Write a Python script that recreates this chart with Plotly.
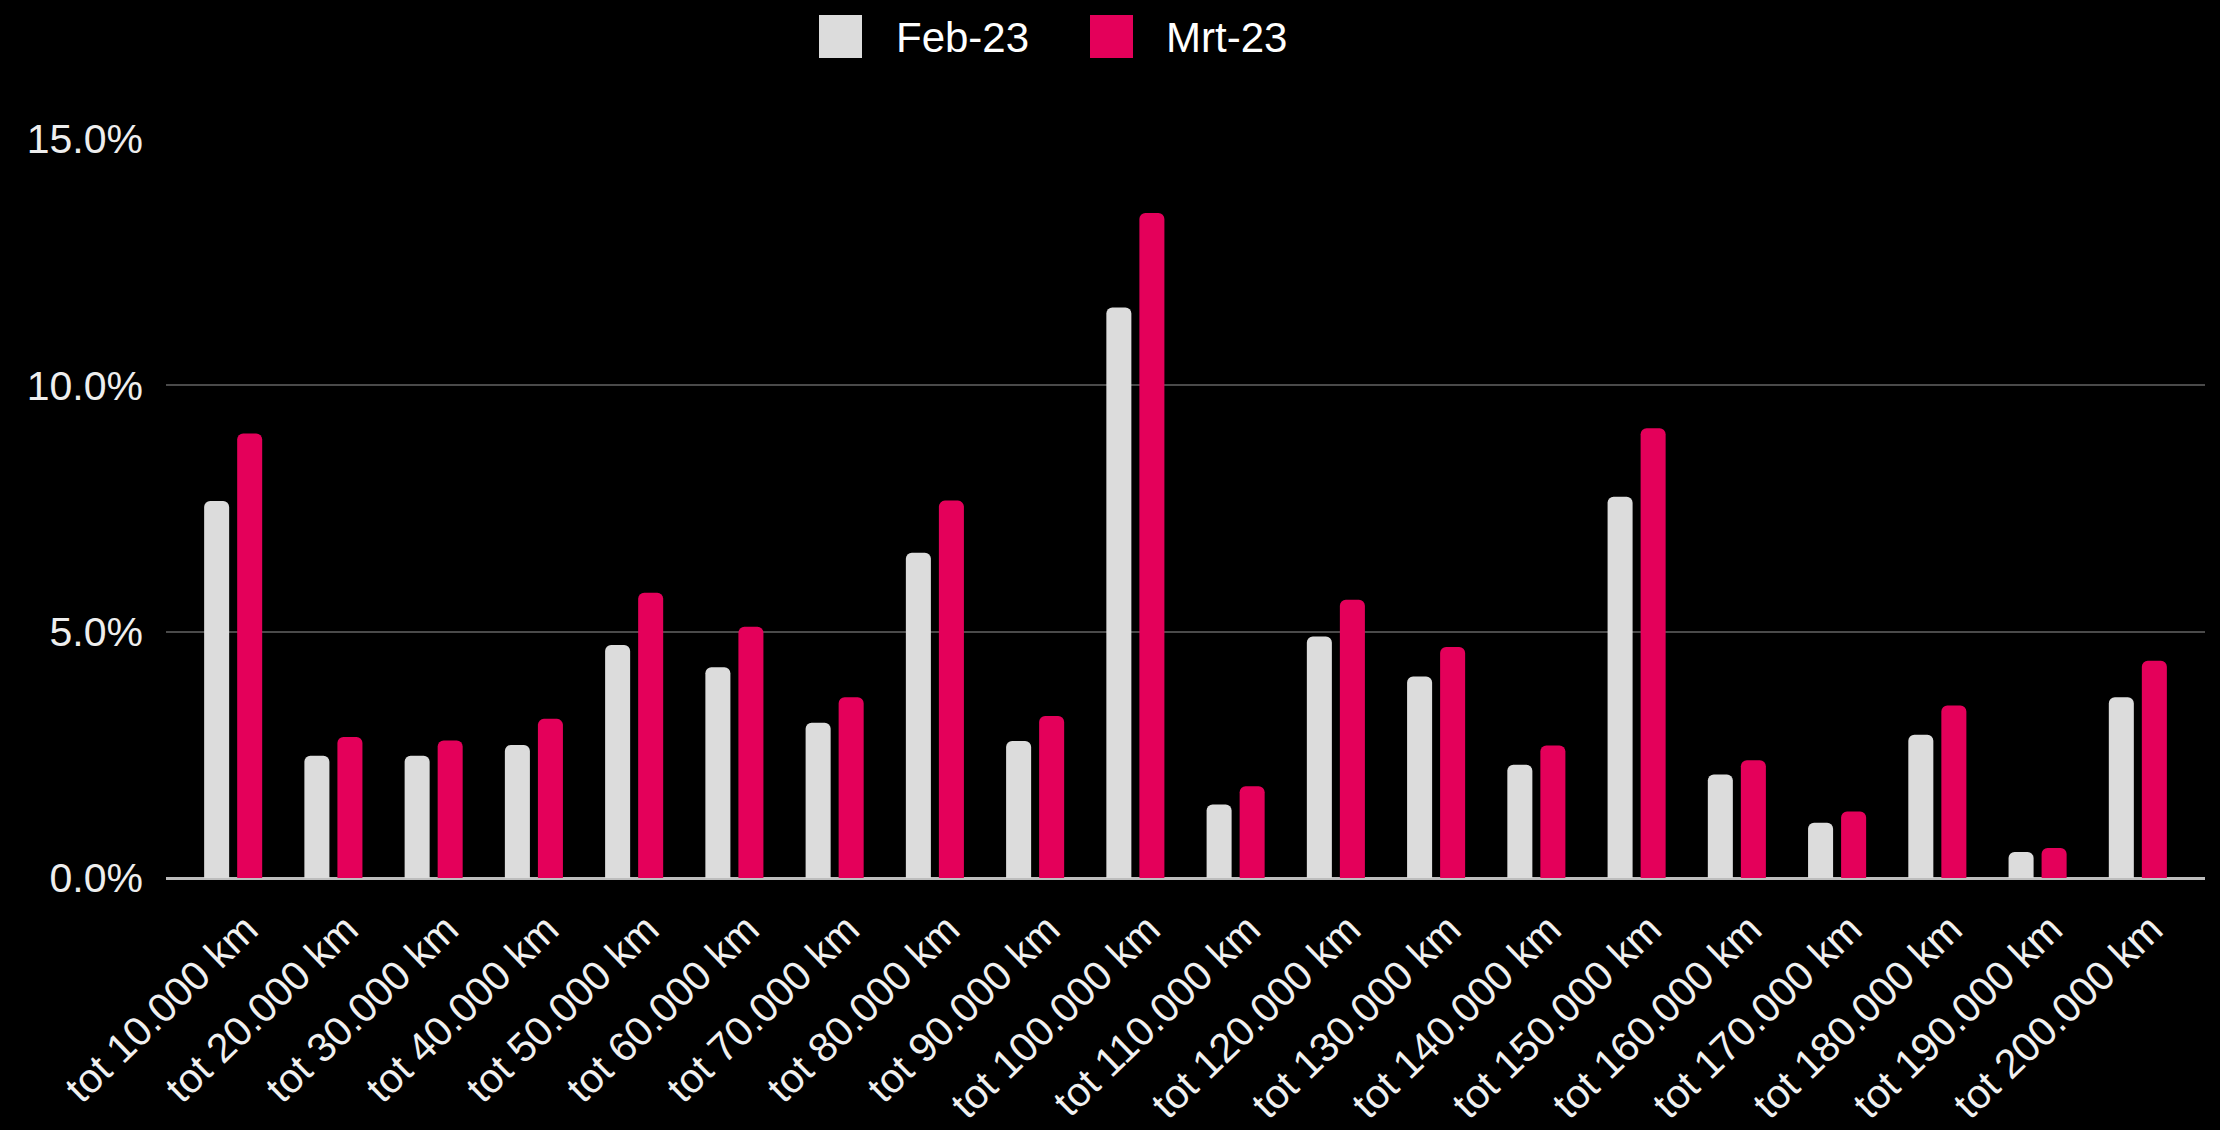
import plotly.graph_objects as go

categories = ["tot 10.000 km", "tot 20.000 km", "tot 30.000 km", "tot 40.000 km",
              "tot 50.000 km", "tot 60.000 km", "tot 70.000 km", "tot 80.000 km",
              "tot 90.000 km", "tot 100.000 km", "tot 110.000 km", "tot 120.000 km",
              "tot 130.000 km", "tot 140.000 km", "tot 150.000 km", "tot 160.000 km",
              "tot 170.000 km", "tot 180.000 km", "tot 190.000 km", "tot 200.000 km"]
feb_23 = [7.65, 2.48, 2.48, 2.70, 4.73, 4.28, 3.15, 6.60, 2.78, 11.58,
          1.49, 4.90, 4.09, 2.30, 7.74, 2.10, 1.12, 2.91, 0.53, 3.67]
mrt_23 = [9.02, 2.86, 2.79, 3.23, 5.79, 5.10, 3.67, 7.66, 3.29, 13.50,
          1.86, 5.65, 4.69, 2.69, 9.13, 2.39, 1.35, 3.50, 0.61, 4.41]
series_names = ["Feb-23", "Mrt-23"]
y_ticks = [0, 5, 10, 15]
y_tick_labels = ["0.0%", "5.0%", "10.0%", "15.0%"]

COL_FEB = "#DCDCDC"
COL_MRT = "#E4005A"
FONT = "Liberation Sans, Arial, sans-serif"

W, H = 2220, 1130
L, R = 166, 2205
T, B = 139, 878

fig = go.Figure()
fig.add_trace(go.Bar(x=categories, y=feb_23, name=series_names[0],
                     marker=dict(color=COL_FEB, line=dict(width=0))))
fig.add_trace(go.Bar(x=categories, y=mrt_23, name=series_names[1],
                     marker=dict(color=COL_MRT, line=dict(width=0))))


def px_x(p):
    return (p - L) / (R - L)


def px_y(p):
    return (B - p) / (B - T)


shapes = []
annotations = []
legend_items = [(series_names[0], COL_FEB, 819, 894), (series_names[1], COL_MRT, 1090, 1164)]
for name, col, sx, tx in legend_items:
    shapes.append(dict(type="rect", xref="paper", yref="paper",
                       x0=px_x(sx), x1=px_x(sx + 43), y0=px_y(58), y1=px_y(15),
                       fillcolor=col, line=dict(width=0)))
    annotations.append(dict(text=name, xref="paper", yref="paper",
                            x=px_x(tx), y=px_y(37), xanchor="left", yanchor="middle",
                            showarrow=False, font=dict(family=FONT, size=42, color="#ffffff")))

fig.update_layout(
    width=W, height=H,
    margin=dict(l=L, r=W - R, t=T, b=H - B, pad=0, autoexpand=False),
    paper_bgcolor="#000000", plot_bgcolor="#000000",
    showlegend=False,
    barmode="group", bargap=0.341, bargroupgap=0.2424,
    barcornerradius=6,
    font=dict(family=FONT, size=41, color="#eeeeee"),
    shapes=shapes, annotations=annotations,
)
fig.update_xaxes(
    type="category", range=[-0.67, 19.67], tickangle=-44, automargin=False,
    showgrid=False, showline=False, zeroline=False, ticks="",
    ticklabelstandoff=18, ticklabelshift=13,
    tickfont=dict(family=FONT, size=41, color="#f0f0f0"),
)
fig.update_yaxes(
    range=[0, 15], tickvals=y_ticks, ticktext=y_tick_labels, automargin=False,
    showgrid=True, gridcolor="#4a4a4a", gridwidth=2,
    zeroline=True, zerolinecolor="#bdbdbd", zerolinewidth=3,
    showline=False, ticks="", ticklabelstandoff=22,
    tickfont=dict(family=FONT, size=41, color="#eeeeee"),
)

fig.write_html(
    "out.html",
    config={"displayModeBar": False},
    post_script="document.body.style.margin='0';document.body.style.background='#000';"
                "document.documentElement.style.background='#000';",
)
